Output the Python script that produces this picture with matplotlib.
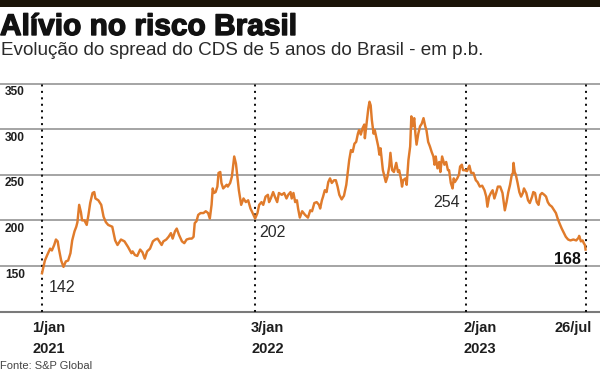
import matplotlib
matplotlib.use("Agg")
import matplotlib.pyplot as plt
import matplotlib.patheffects as pe
from matplotlib.patches import Rectangle
import pandas as pd

# ---------------- data ----------------
base_date = "2021-01-01"
# days since 2021-01-01
day_offsets = [0, 5, 9, 14, 17, 21, 24, 27, 29, 33, 37, 41, 45, 49, 52, 56, 59, 61, 64, 67,
               69, 73, 77, 80, 83, 87, 90, 92, 97, 102, 106, 110, 114, 121, 126, 130, 136, 142, 148, 154,
               156, 160, 164, 169, 173, 177, 181, 186, 191, 195, 199, 202, 206, 209, 214, 218, 222, 225, 229, 232,
               236, 241, 245, 249, 254, 258, 261, 263, 266, 269, 273, 278, 282, 286, 289, 292, 294, 296, 299, 302,
               304, 307, 309, 312, 318, 320, 324, 327, 329, 331, 334, 336, 339, 343, 347, 351, 355, 359, 362, 367,
               371, 374, 378, 381, 385, 389, 391, 394, 398, 401, 405, 408, 413, 417, 421, 424, 428, 430, 433, 436,
               439, 441, 444, 448, 453, 458, 462, 465, 469, 473, 477, 479, 482, 484, 487, 490, 493, 496, 499, 503,
               506, 509, 512, 516, 520, 524, 527, 529, 532, 535, 538, 541, 544, 546, 549, 552, 555, 556, 559, 562,
               564, 566, 568, 571, 573, 576, 579, 581, 583, 587, 589, 592, 595, 598, 600, 603, 606, 610, 613, 615,
               618, 620, 622, 626, 628, 631, 634, 636, 638, 641, 643, 645, 648, 651, 654, 657, 660, 662, 665, 668,
               671, 674, 676, 678, 681, 684, 686, 689, 693, 696, 699, 701, 704, 707, 709, 711, 715, 718, 720, 723,
               725, 728, 732, 736, 739, 743, 747, 750, 754, 758, 762, 765, 767, 770, 773, 776, 779, 782, 785, 789,
               793, 797, 800, 803, 806, 809, 811, 812, 814, 816, 819, 822, 825, 828, 830, 834, 837, 840, 844, 846,
               849, 852, 855, 858, 861, 865, 868, 871, 874, 878, 882, 885, 888, 891, 895, 899, 902, 906, 910, 915,
               920, 924, 925, 928, 931, 933, 935, 936]
cds_spread = [142, 156, 162, 169, 167, 173, 179, 177, 169, 156, 149, 155, 156, 164, 178, 188, 193, 198, 217, 209,
              200, 200, 195, 206, 219, 230, 231, 224, 222, 217, 204, 198, 195, 193, 178, 173, 179, 177, 171, 164,
              166, 162, 161, 168, 165, 158, 166, 169, 177, 179, 180, 177, 173, 177, 179, 182, 186, 180, 188, 191,
              184, 177, 175, 179, 180, 180, 182, 197, 199, 206, 208, 208, 210, 208, 202, 217, 235, 230, 231, 237,
              252, 253, 241, 235, 239, 237, 241, 248, 259, 270, 262, 250, 233, 217, 224, 220, 222, 213, 209, 202,
              208, 217, 220, 217, 226, 228, 220, 224, 231, 226, 220, 230, 228, 230, 224, 228, 231, 224, 230, 220,
              222, 213, 203, 210, 206, 203, 211, 210, 219, 220, 217, 213, 222, 226, 233, 231, 242, 246, 241, 244,
              244, 237, 228, 223, 227, 239, 255, 266, 277, 275, 284, 286, 295, 299, 294, 301, 305, 290, 306, 323,
              330, 326, 310, 295, 299, 290, 281, 272, 279, 255, 250, 242, 248, 259, 274, 255, 253, 263, 253, 255,
              246, 237, 244, 246, 239, 266, 281, 314, 303, 312, 295, 283, 295, 303, 306, 312, 303, 299, 286, 281,
              275, 270, 261, 270, 257, 264, 253, 270, 261, 264, 255, 255, 241, 235, 246, 242, 246, 250, 259, 261,
              255, 255, 254, 260, 252, 252, 244, 242, 237, 238, 233, 226, 215, 226, 230, 233, 224, 230, 237, 237,
              230, 211, 220, 231, 239, 250, 252, 263, 253, 250, 241, 231, 226, 230, 235, 230, 222, 219, 226, 231,
              230, 220, 217, 228, 230, 228, 226, 220, 217, 215, 211, 208, 202, 197, 191, 186, 182, 179, 178, 179,
              178, 181, 183, 177, 178, 175, 173, 168]

y_ticks = [150, 200, 250, 300, 350]
marker_dates = ["2021-01-01", "2022-01-03", "2023-01-02", "2023-07-26"]
marker_labels = ["1/jan", "3/jan", "2/jan", "26/jul"]
marker_years = ["2021", "2022", "2023", ""]
callout_dates = ["2021-01-01", "2022-01-03", "2023-01-02", "2023-07-26"]
callout_values = [142, 202, 254, 168]

title = "Alívio no risco Brasil"
subtitle = "Evolução do spread do CDS de 5 anos do Brasil - em p.b."
source = "Fonte: S&P Global"

# ---------------- style ----------------
LINE = "#E07B2B"
GRID = "#8c8c8c"
TXT = "#1e1e1e"
FONT = ["Liberation Sans", "DejaVu Sans"]

dates = pd.Timestamp(base_date) + pd.to_timedelta(day_offsets, unit="D")

fig = plt.figure(figsize=(6, 3.71), dpi=100)
fig.patch.set_facecolor("white")

# top bar
fig.patches.append(Rectangle((0, 1 - 6.5 / 371), 1, 6.5 / 371, transform=fig.transFigure,
                             facecolor="#1b1409", edgecolor="none"))

fig.text(0.0, 1 - 35 / 371, title, fontsize=21.5, fontweight="bold", family=FONT, color="#111111",
         va="baseline", ha="left",
         path_effects=[pe.withStroke(linewidth=1.0, foreground="#111111")])
fig.text(0.002, 1 - 55 / 371, subtitle, fontsize=13.6, family=FONT, color="#2a2a2a",
         va="baseline", ha="left")
fig.text(0.0, 1 - 369 / 371, source, fontsize=8, family=FONT, color="#444444",
         va="baseline", ha="left")

ax = fig.add_axes([0, 1 - 311.6 / 371, 1, (311.6 - 83.5) / 371])
ax.set_facecolor("none")
for s in ax.spines.values():
    s.set_visible(False)
ax.set_xticks([])
ax.set_yticks([])

b = pd.Timestamp(base_date)
ax.set_xlim(b - pd.Timedelta(days=72.33), b + pd.Timedelta(days=960.9))
ax.set_ylim(100, 350)

# grid lines
for v in y_ticks:
    ax.axhline(v, color=GRID, lw=1.1, clip_on=False, zorder=1)
    ax.annotate(str(v), xy=(0, v), xycoords=("axes fraction", "data"), xytext=(3.6, -8.3),
                textcoords="offset points", ha="left", va="baseline", fontsize=8.6,
                fontweight="bold", family=FONT, color=TXT)
ax.axhline(100, color="#7a7a7a", lw=1.5, clip_on=False, zorder=1)

# vertical dotted markers
label_dx = [4.7, 8.9, 9.7, -8.6]
for d, lab, yr, dx in zip(marker_dates, marker_labels, marker_years, label_dx):
    t = pd.Timestamp(d)
    ax.axvline(t, color="#111111", lw=1.45, linestyle=(0, (1, 2.2)), dash_capstyle="butt", zorder=2)
    ax.annotate(lab, xy=(t, 0), xycoords=("data", "axes fraction"), xytext=(dx, -14.7),
                textcoords="offset points", ha="center", va="baseline", fontsize=10.5,
                fontweight="bold", family=FONT, color=TXT, annotation_clip=False)
    if yr:
        ax.annotate(yr, xy=(t, 0), xycoords=("data", "axes fraction"), xytext=(dx, -30),
                    textcoords="offset points", ha="center", va="baseline", fontsize=10.5,
                    fontweight="bold", family=FONT, color=TXT, annotation_clip=False)

ax.plot(dates, cds_spread, color=LINE, lw=1.75, solid_joinstyle="round", zorder=3)

# callouts
offsets = [(5, -13.5, "left", "normal"), (2.8, -13.1, "left", "normal"),
           (-4.7, -26.1, "right", "normal"), (-3.2, -10.7, "right", "bold")]
for d, v, (dx, dy, ha, fw) in zip(callout_dates, callout_values, offsets):
    ax.annotate(str(v), xy=(pd.Timestamp(d), v), xytext=(dx, dy), textcoords="offset points",
                ha=ha, va="baseline", fontsize=11.5, fontweight=fw, family=FONT,
                color="#2a2a2a" if fw == "normal" else "#111111", annotation_clip=False, zorder=4)

fig.savefig("out.png", dpi=100)
